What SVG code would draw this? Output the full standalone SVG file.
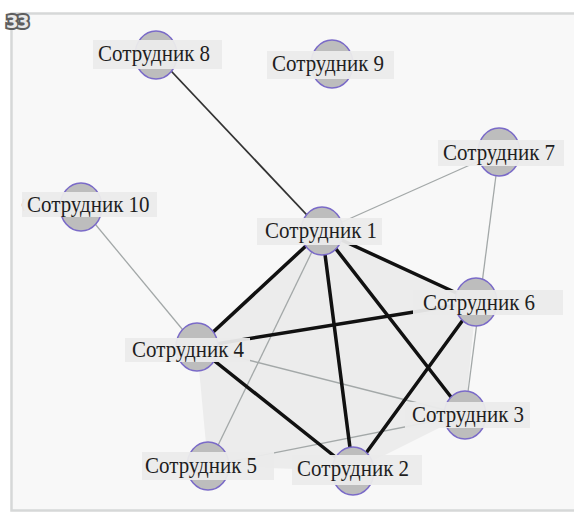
<svg xmlns="http://www.w3.org/2000/svg" width="574" height="514" viewBox="0 0 574 514">
<style>
.node ellipse{fill:#bdbdbd;stroke:#7a6ac8;stroke-width:1.5}
.node rect{fill:#ebebeb;fill-opacity:0.95}
.node text{font-family:'Liberation Serif','Times New Roman','DejaVu Serif',serif;font-size:21px;fill:#1e1e1e}
.thick{stroke:#111;stroke-width:3.5;fill:none;stroke-linecap:round}
.thin{stroke:#a3a8a8;stroke-width:1.3;fill:none}
.mid{stroke:#333;stroke-width:1.8;fill:none}
</style>
<rect x="0" y="0" width="574" height="514" fill="#ffffff"/>
<rect x="11.5" y="13.5" width="580" height="497" fill="#f8f8f8" stroke="#d6d8d8" stroke-width="2.5"/>
<text x="6" y="28" font-family="DejaVu Sans, sans-serif" font-size="18" font-weight="bold" fill="#e8e8e8" stroke="#5e5e5e" stroke-width="4" paint-order="stroke" letter-spacing="-1.5">33</text>
<polygon points="322,231 476,302 465,415 353,471 208,466 197,347" fill="#ececec"/>
<g id="connectors">
<line class="mid" x1="156" y1="55" x2="322" y2="231"/>
<line class="thin" x1="322" y1="231" x2="499" y2="152"/>
<line class="thin" x1="81" y1="207" x2="197" y2="347"/>
<line class="thin" x1="499" y1="152" x2="465" y2="415"/>
<line class="thin" x1="322" y1="231" x2="208" y2="466"/>
<line class="thin" x1="197" y1="347" x2="465" y2="415"/>
<line class="thin" x1="208" y1="466" x2="465" y2="415"/>
<line class="thick" x1="322" y1="231" x2="197" y2="347"/>
<line class="thick" x1="322" y1="231" x2="353" y2="471"/>
<line class="thick" x1="322" y1="231" x2="465" y2="415"/>
<line class="thick" x1="322" y1="231" x2="476" y2="302"/>
<line class="thick" x1="197" y1="347" x2="476" y2="302"/>
<line class="thick" x1="197" y1="347" x2="353" y2="471"/>
<line class="thick" x1="476" y1="302" x2="353" y2="471"/>
</g>
<path d="M24,199 Q21,205 24,211" stroke="#e08a3a" stroke-width="1.5" fill="none"/>
<g id="n8" class="node"><ellipse cx="156" cy="55" rx="21" ry="24"/><rect x="93" y="40" width="129" height="29"/><text transform="translate(98 61) scale(1 1.12)">Сотрудник 8</text></g>
<g id="n9" class="node"><ellipse cx="332" cy="64" rx="21" ry="24"/><rect x="267" y="51" width="127" height="28"/><text transform="translate(272 71) scale(1 1.12)">Сотрудник 9</text></g>
<g id="n7" class="node"><ellipse cx="499" cy="152" rx="21" ry="24"/><rect x="438" y="140" width="126" height="26"/><text transform="translate(443 160) scale(1 1.12)">Сотрудник 7</text></g>
<g id="n10" class="node"><ellipse cx="81" cy="207" rx="21" ry="24"/><rect x="22" y="192" width="135" height="25"/><text transform="translate(27 212) scale(1 1.12)">Сотрудник 10</text></g>
<g id="n1" class="node"><ellipse cx="322" cy="231" rx="21" ry="24"/><rect x="257" y="218" width="125" height="27"/><text transform="translate(265 238) scale(1 1.12)">Сотрудник 1</text></g>
<g id="n6" class="node"><ellipse cx="476" cy="302" rx="21" ry="24"/><rect x="413" y="290" width="150" height="25"/><text transform="translate(423 310) scale(1 1.12)">Сотрудник 6</text></g>
<g id="n4" class="node"><ellipse cx="197" cy="347" rx="21" ry="24"/><rect x="125" y="338" width="125" height="24"/><text transform="translate(132 357) scale(1 1.12)">Сотрудник 4</text></g>
<g id="n3" class="node"><ellipse cx="465" cy="415" rx="21" ry="24"/><rect x="405" y="402" width="125" height="26"/><text transform="translate(412 422) scale(1 1.12)">Сотрудник 3</text></g>
<g id="n5" class="node"><ellipse cx="208" cy="466" rx="21" ry="24"/><rect x="142" y="452" width="132" height="28"/><text transform="translate(145 473) scale(1 1.12)">Сотрудник 5</text></g>
<g id="n2" class="node"><ellipse cx="353" cy="471" rx="21" ry="24"/><rect x="292" y="455" width="130" height="30"/><text transform="translate(297 476) scale(1 1.12)">Сотрудник 2</text></g>
</svg>
